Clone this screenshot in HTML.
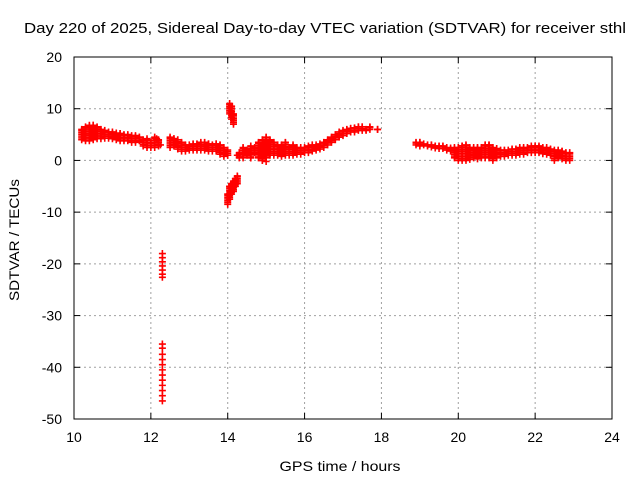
<!DOCTYPE html>
<html><head><meta charset="utf-8"><style>
body{margin:0;background:#fff;}
svg{display:block;font-family:"Liberation Sans",sans-serif;}
</style></head><body>
<svg id="chart" width="640" height="480">
<text x="325" y="33" text-anchor="middle" font-size="15" textLength="602" lengthAdjust="spacingAndGlyphs">Day 220 of 2025, Sidereal Day-to-day VTEC variation (SDTVAR) for receiver sthl</text>
<text x="340" y="471" text-anchor="middle" font-size="14" textLength="121" lengthAdjust="spacingAndGlyphs">GPS time / hours</text>
<text transform="translate(19,240) rotate(-90)" text-anchor="middle" font-size="14" textLength="122" lengthAdjust="spacingAndGlyphs">SDTVAR / TECUs</text>
<g id="grid"></g><g id="ticks"></g><g id="marks"></g>
<rect x="74" y="57" width="538" height="362" fill="none" stroke="#000" stroke-width="1"/>
</svg>
<script>
const xTicks=[10,12,14,16,18,20,22,24];
const yTicks=[20,10,0,-10,-20,-30,-40,-50];
const bandT=[10.2,10.3,10.4,10.5,10.6,10.7,10.8,10.9,11.0,11.1,11.2,11.3,11.4,11.5,11.6,11.7,11.8,11.9,12.0,12.1,12.2,
12.5,12.6,12.7,12.8,12.9,13.0,13.1,13.2,13.3,13.4,13.5,13.6,13.7,13.8,13.9,14.0,
14.3,14.4,14.5,14.6,14.7,14.8,14.9,15.0,15.1,15.2,15.3,15.4,15.5,15.6,15.7,15.8,15.9,16.0,16.1,16.2,16.3,16.4,16.5,16.6,16.7,16.8,16.9,17.0,17.1,17.2,17.3,17.4,17.5,17.6,17.7,17.9,
18.9,19.0,19.1,19.2,19.3,19.4,19.5,19.6,19.7,19.8,19.9,20.0,20.1,20.2,20.3,20.4,20.5,20.6,20.7,20.8,20.9,21.0,21.1,21.2,21.3,21.4,21.5,21.6,21.7,21.8,21.9,22.0,22.1,22.2,22.3,22.4,22.5,22.6,22.7,22.8,22.9];
const bandLo=[4,3.8,3.8,4,4.2,4.2,4.3,4.3,4.2,4,3.8,3.8,3.8,3.5,3.5,3.8,2.8,2.5,2.5,2.5,2.8,
2.5,2.8,2.2,1.8,1.8,2,2,2,2,2,1.8,1.8,1.8,1.2,0.8,1,
0.5,0.5,1,0.5,1.5,0.5,0,0.5,1,1,1,0.8,1,1,1,1.2,1.2,1.5,1.5,1.8,2,2.2,2.5,3,3.5,4,4.5,4.8,5.2,5.5,5.5,5.8,5.8,5.8,6,6,
3,2.8,3,2.8,2.6,2.4,2.3,2.3,2,1.8,0.5,0,0,0,0.2,0.5,0.3,0.5,0.5,0.5,0,0.5,0.8,0.8,1,1,1,1.2,1.2,1.5,1.5,1.5,1.5,1.3,1.2,1,0,0.5,0.3,0,0];
const bandHi=[6,6.5,6.8,6.8,6.5,6,5.8,5.5,5.5,5.3,5.2,5,5,4.8,4.8,4.5,4,4.2,3.5,4.5,4,
4.5,4.2,4,3.5,3,3,3.2,3.2,3.5,3.5,3.2,3,3.2,3,2.5,2,
1.5,2.5,2,2.8,2.5,3.5,4,4.5,4,3.5,3,3,3.5,2.5,3,2.5,2.5,2.5,2.8,3,3,3.2,3.5,4,4.5,5,5.5,5.8,6,6.2,6.3,6.5,6.5,6,6.5,6,
3.5,3.5,3.2,3,3,2.8,2.8,2.8,2.5,2.4,2.5,2.5,2.8,3,2.5,2.5,2.5,2.5,3,3,2.5,2.3,2,2,2,2.2,2.2,2.5,2.5,2.5,2.8,2.8,2.8,2.5,2.5,2.2,2,2,1.8,1.5,1.5];
const spikeT=[14.05,14.1,14.15,14.0,14.05,14.1,14.15,14.2,14.25];
const spikeLo=[9,8,7,-8.5,-7.5,-6.5,-6,-5,-4.5];
const spikeHi=[11,10.5,9,-6.5,-5,-4.5,-4,-3.5,-3];
const ptT=[12.3,12.3,12.3,12.3,12.3,12.3,12.3,12.3,12.3,12.3,12.3,12.3,12.3,12.3,12.3,12.3,12.3,12.3,12.3,14.25,14.6,14.9,15.0,14.8,14.0,12.25,12.15];
const ptV=[-18,-18.8,-19.6,-20.4,-21.2,-22,-22.6,-35.5,-36.3,-37.5,-38.5,-39.5,-40.5,-41.5,-42.5,-43.5,-44.5,-45.5,-46.5,1,0.5,0,-0.2,2.5,1,3,4.2];

const X0=74,X1=612,Y0=419,Y1=57;
const xs=t=>X0+(t-10)/(24-10)*(X1-X0);
const ys=v=>Y0-(v+50)/70*(Y0-Y1);
const NS="http://www.w3.org/2000/svg";
const grid=document.getElementById('grid'),ticks=document.getElementById('ticks'),marks=document.getElementById('marks');
function mk(tag,attrs,parent){const e=document.createElementNS(NS,tag);for(const k in attrs)e.setAttribute(k,attrs[k]);parent.appendChild(e);return e;}
xTicks.forEach(t=>{const x=xs(t);
 if(t>10&&t<24){const g=mk('line',{x1:x,x2:x,y1:Y0,y2:Y1,stroke:'#a0a0a0','stroke-dasharray':'2,3'},grid);
 
 }
 mk('line',{x1:x,x2:x,y1:Y0,y2:Y0-6,stroke:'#000'},ticks);
 mk('line',{x1:x,x2:x,y1:Y1,y2:Y1+6,stroke:'#000'},ticks);
 const l=mk('text',{x:x,y:Y0+23,'text-anchor':'middle','font-size':14},ticks);l.textContent=t;
 
 
});
yTicks.forEach(v=>{const y=ys(v);
 if(v>-50&&v<20){const g=mk('line',{x1:X0,x2:X1,y1:y,y2:y,stroke:'#a0a0a0','stroke-dasharray':'2,3'},grid);
 
 }
 mk('line',{x1:X0,x2:X0+6,y1:y,y2:y,stroke:'#000'},ticks);
 mk('line',{x1:X1,x2:X1-6,y1:y,y2:y,stroke:'#000'},ticks);
 const l=mk('text',{x:X0-12,y:y+5,'text-anchor':'end','font-size':14},ticks);l.textContent=v;
 
 
});
function cross(t,v){const x=xs(t),y=ys(v);
 const p=mk('path',{d:`M${x-3.5},${y}h7M${x},${y-3.5}v7`,stroke:'#f00','stroke-width':1.6,fill:'none'},marks);
 
 
}
function band(T,L,H){for(let i=0;i<T.length;i++){for(let v=L[i];v<=H[i]+1e-9;v+=0.35)cross(T[i],v);cross(T[i],H[i]);}}
band(bandT,bandLo,bandHi);
band(spikeT,spikeLo,spikeHi);
for(let i=0;i<ptT.length;i++)cross(ptT[i],ptV[i]);
</script>
</body></html>
